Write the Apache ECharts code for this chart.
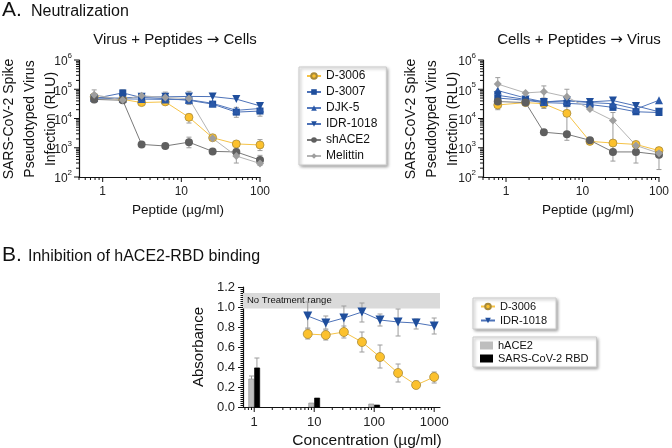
<!DOCTYPE html>
<html>
<head>
<meta charset="utf-8">
<script src="https://cdn.jsdelivr.net/npm/echarts@6/dist/echarts.min.js"></script>
<style>
  html, body { margin: 0; padding: 0; background: #fff; }
  #chart { width: 672px; height: 448px; }
</style>
</head>
<body>
<div id="chart"></div>
<script>
// 数据 —— 上图 (A) 两个面板共用的 x 值
const peptideDose = [0.78, 1.8, 3.125, 6.25, 12.5, 25, 50, 100];

// A 左：Virus + Peptides → Cells
const vpcD3006    = [55000, 45000, 35000, 37000, 11000, 2200, 1350, 1250];
const vpcD3007    = [48000, 75000, 52000, 48000, 42000, 31000, 16500, 18000];
const vpcDJK5     = [52000, 47000, 46000, 45000, 44000, 33000, 19000, 22000];
const vpcIDR1018  = [50000, 50000, 55000, 55000, 57000, 56000, 46000, 27000];
const vpcShACE2   = [45000, 42000, 1300, 1150, 1550, 750, 720, 380];
const vpcMelittin = [65000, 43000, 60000, 52000, 48000, 2100, 520, 290];
// [x, 下限, 上限, 系列]
const vpcErr = [
  [0.78, 35000, 95000, 'Melittin'],
  [1.8, 40000, 95000, 'D-3007'],
  [6.25, 30000, 80000, 'Melittin'],
  [12.5, 30000, 85000, 'Melittin'],
  [12.5, 7000, 14000, 'D-3006'],
  [12.5, 1000, 2300, 'shACE2'],
  [50, 11000, 24000, 'D-3007'],
  [50, 300, 900, 'Melittin'],
  [100, 800, 1900, 'D-3006'],
  [100, 12000, 30000, 'D-3007'],
  [100, 250, 550, 'shACE2']
];

// A 右：Cells + Peptides → Virus
const cpvD3006    = [29000, 35000, 32000, 15000, 1650, 1450, 1300, 800];
const cpvD3007    = [50000, 42000, 35000, 33000, 30000, 24000, 17000, 16000];
const cpvDJK5     = [90000, 50000, 37000, 40000, 35000, 32000, 21000, 42000];
const cpvIDR1018  = [62000, 45000, 37000, 41000, 37000, 41000, 27000, 17000];
const cpvShACE2   = [38000, 35000, 3400, 2900, 1800, 720, 720, 580];
const cpvMelittin = [150000, 75000, 82000, 55000, 21000, 8500, 1200, 650];
const cpvErr = [
  [0.78, 90000, 250000, 'Melittin'],
  [0.78, 20000, 40000, 'D-3006'],
  [3.125, 50000, 130000, 'Melittin'],
  [3.125, 22000, 45000, 'D-3006'],
  [6.25, 30000, 100000, 'Melittin'],
  [6.25, 1800, 25000, 'D-3006'],
  [25, 350, 16000, 'Melittin'],
  [50, 300, 1500, 'shACE2'],
  [100, 180, 1000, 'shACE2'],
  [100, 500, 1000, 'D-3006']
];

// B：hACE2-RBD 结合抑制
const bindConc     = [7.8, 15.6, 31.25, 62.5, 125, 250, 500, 1000];
const bindD3006    = [0.73, 0.72, 0.75, 0.65, 0.50, 0.34, 0.22, 0.30];
const bindIDR1018  = [0.91, 0.84, 0.89, 0.95, 0.87, 0.85, 0.84, 0.81];
const bindErr = [
  [7.8, 0.78, 1.05], [15.6, 0.78, 0.91], [31.25, 0.77, 1.01], [62.5, 0.85, 1.04],
  [125, 0.81, 0.93], [250, 0.71, 0.98], [500, 0.78, 0.88], [1000, 0.73, 0.89],
  [7.8, 0.68, 0.79], [15.6, 0.67, 0.77], [31.25, 0.69, 0.81], [62.5, 0.55, 0.75],
  [125, 0.39, 0.62], [250, 0.25, 0.43], [500, 0.19, 0.26], [1000, 0.24, 0.35]
];
const ctrlConc  = [1, 10, 100];
const ctrlHACE2 = [0.28, 0.04, 0.03];
const ctrlRBD   = [0.39, 0.09, 0.02];
const ctrlErr   = [[1, 0.26, 0.31, -1], [1, 0.39, 0.49, 1]];
const noTreatRange = [0.985, 1.14];

const FONT = "'Liberation Sans', Arial, sans-serif";

// 样式
const styles = {
  'D-3006':   { symbol: 'circle',   rot: 0,   fill: '#FCC12D', line: '#F6C346', border: '#A88A3A', bw: 0.8 },
  'D-3007':   { symbol: 'rect',     rot: 0,   fill: '#1F4E9C', line: '#4D72B8', border: '#1F4E9C', bw: 0 },
  'DJK-5':    { symbol: 'triangle', rot: 0,   fill: '#2A58A8', line: '#5479BD', border: '#2A58A8', bw: 0 },
  'IDR-1018': { symbol: 'triangle', rot: 180, fill: '#1F4E9C', line: '#4D72B8', border: '#1F4E9C', bw: 0 },
  'shACE2':   { symbol: 'circle',   rot: 0,   fill: '#5F5F5F', line: '#7A7A7A', border: '#5F5F5F', bw: 0 },
  'Melittin': { symbol: 'diamond',  rot: 0,   fill: '#9E9E9E', line: '#B4B4B4', border: '#9E9E9E', bw: 0 }
};

let lineSeries = function(name, xs, ys, gi) {
  let s = styles[name];
  return {
    type: 'line',
    name: name,
    xAxisIndex: gi,
    yAxisIndex: gi,
    data: xs.map((x, i) => [x, ys[i]]),
    symbol: s.symbol,
    symbolRotate: s.rot,
    symbolSize: s.symbol === 'rect' ? 7 : 8,
    showSymbol: true,
    lineStyle: { color: s.line, width: 1 },
    itemStyle: { color: s.fill, borderColor: s.border, borderWidth: s.bw },
    z: 3
  };
}

// 误差线：自定义系列，通过坐标轴换算
let errSeries = function(list, gi, z) {
  return {
    type: 'custom',
    xAxisIndex: gi,
    yAxisIndex: gi,
    silent: true,
    z: z || 2,
    data: list.map(d => [d[0], d[1], d[2], typeof d[3] === 'number' ? d[3] : 0]),
    renderItem: function(params, api) {
      let lo = api.coord([api.value(0), api.value(1)]);
      let hi = api.coord([api.value(0), api.value(2)]);
      let x = lo[0] + api.value(3) * 2.7;
      let style = { stroke: '#9C9C9C', lineWidth: 1 };
      return {
        type: 'group',
        children: [
          { type: 'line', shape: { x1: x, y1: lo[1], x2: x, y2: hi[1] }, style: style },
          { type: 'line', shape: { x1: x - 2.5, y1: hi[1], x2: x + 2.5, y2: hi[1] }, style: style },
          { type: 'line', shape: { x1: x - 2.5, y1: lo[1], x2: x + 2.5, y2: lo[1] }, style: style }
        ]
      };
    }
  };
}

// 对数轴刻度（1..9 × 10^n）
let logTickValues = function(min, max) {
  let out = [];
  for (let e = Math.floor(Math.log10(min)); e <= Math.ceil(Math.log10(max)); e++) {
    for (let k = 1; k <= 9; k++) {
      let v = k * Math.pow(10, e);
      if (v >= min * 0.9999 && v <= max * 1.0001) out.push([v, k === 1 ? 1 : 0]);
    }
  }
  return out;
}

let tickSeries = function(gi, xMin, xMax, yMin, yMax, yLog) {
  let data = [];
  logTickValues(xMin, xMax).forEach(t => data.push([t[0], yMin, t[1], 0]));
  if (yLog) logTickValues(yMin, yMax).forEach(t => data.push([xMin, t[0], t[1], 1]));
  return {
    type: 'custom',
    xAxisIndex: gi,
    yAxisIndex: gi,
    silent: true,
    z: 5,
    data: data,
    renderItem: function(params, api) {
      let p = api.coord([api.value(0), api.value(1)]);
      let len = api.value(2) ? 5 : 3;
      let shape = api.value(3) === 0
        ? { x1: p[0], y1: p[1], x2: p[0], y2: p[1] + len }
        : { x1: p[0], y1: p[1], x2: p[0] - len, y2: p[1] };
      return { type: 'line', shape: shape, style: { stroke: '#111', lineWidth: 1 } };
    }
  };
}

let barSeries = function(name, xs, ys, side, color, border) {
  return {
    type: 'custom',
    name: name,
    xAxisIndex: 2,
    yAxisIndex: 2,
    z: 3,
    itemStyle: { color: color },
    data: xs.map((x, i) => [x, ys[i]]),
    renderItem: function(params, api) {
      let base = api.coord([api.value(0), 0]);
      let top = api.coord([api.value(0), api.value(1)]);
      let w = 5.2;
      let x = side < 0 ? base[0] - w - 0.3 : base[0] + 0.3;
      return {
        type: 'rect',
        shape: { x: x, y: top[1], width: w, height: base[1] - top[1] },
        style: { fill: color, stroke: border, lineWidth: 0.6 }
      };
    }
  };
}

let logXAxis = function(gi, min, max, size) {
  return {
    type: 'log',
    logBase: 10,
    gridIndex: gi,
    min: min,
    max: max,
    axisLine: { lineStyle: { color: '#111', width: 1.2 } },
    axisTick: { show: false },
    splitLine: { show: false },
    minorTick: { show: false },
    axisLabel: {
      color: '#222',
      fontSize: size,
      fontFamily: FONT,
      margin: 9,
      showMinLabel: false,
      showMaxLabel: true,
      formatter: function(v) {
        let e = Math.log10(v);
        return Math.abs(e - Math.round(e)) < 1e-6 ? String(Math.round(v)) : '';
      }
    }
  };
}

let rluYAxis = function(gi) {
  return {
    type: 'log',
    logBase: 10,
    gridIndex: gi,
    min: 100,
    max: 1000000,
    axisLine: { show: true, lineStyle: { color: '#111', width: 1.2 } },
    axisTick: { show: false },
    splitLine: { show: false },
    axisLabel: {
      margin: 7,
      fontFamily: FONT,
      color: '#222',
      formatter: function(v) {
        return '{b|10}{s|' + Math.round(Math.log10(v)) + '}';
      },
      rich: {
        b: { fontSize: 12, fontFamily: FONT, color: '#222', verticalAlign: 'bottom', lineHeight: 16 },
        s: { fontSize: 8, fontFamily: FONT, color: '#222', verticalAlign: 'top' }
      }
    }
  };
}

let txt = function(text, x, y, size, opts) {
  opts = opts || {};
  return {
    type: 'text',
    x: x,
    y: y,
    rotation: opts.rot || 0,
    silent: true,
    style: {
      text: text,
      x: 0,
      y: 0,
      fill: '#111',
      font: 'normal ' + size + 'px ' + FONT,
      align: opts.align || 'center',
      verticalAlign: opts.va || 'middle',
      lineHeight: opts.lh,
      rich: opts.rich
    }
  };
}

const arrowRich = { a: { fontFamily: "'DejaVu Sans', sans-serif", fontSize: 15, fill: '#111' } };

let legendBox = function(left, top, data, opts) {
  return Object.assign({
    orient: 'vertical',
    left: left,
    top: top,
    data: data,
    selectedMode: false,
    padding: [3, 9, 3, 7],
    itemGap: 4,
    itemWidth: 14,
    itemHeight: 7,
    textStyle: { fontSize: 12, fontFamily: FONT, color: '#111' },
    backgroundColor: '#fff',
    borderColor: '#C9C9C9',
    borderWidth: 1,
    shadowBlur: 3,
    shadowOffsetX: 1.5,
    shadowOffsetY: 1.5,
    shadowColor: 'rgba(0,0,0,0.35)'
  }, opts || {});
}

let names = ['D-3006', 'D-3007', 'DJK-5', 'IDR-1018', 'shACE2', 'Melittin'];
let vpc = [vpcD3006, vpcD3007, vpcDJK5, vpcIDR1018, vpcShACE2, vpcMelittin];
let cpv = [cpvD3006, cpvD3007, cpvDJK5, cpvIDR1018, cpvShACE2, cpvMelittin];

let series = [];
series.push(errSeries(vpcErr, 0));
series.push(errSeries(cpvErr, 1));
names.forEach((n, i) => series.push(lineSeries(n, peptideDose, vpc[i], 0)));
names.forEach((n, i) => series.push(lineSeries(n, peptideDose, cpv[i], 1)));

let bIdr = lineSeries('IDR-1018', bindConc, bindIDR1018, 2);
bIdr.symbolSize = 9;
bIdr.markArea = {
  silent: true,
  itemStyle: { color: '#DADADA' },
  label: {
    show: true,
    position: 'insideLeft',
    distance: 4,
    color: '#111',
    fontSize: 9.5,
    fontFamily: FONT
  },
  data: [[
    { name: 'No Treatment range', xAxis: 0.65, yAxis: noTreatRange[0] },
    { xAxis: 1250, yAxis: noTreatRange[1] }
  ]]
};
let bD = lineSeries('D-3006', bindConc, bindD3006, 2);
bD.symbolSize = 9;
series.push(errSeries(bindErr, 2));
series.push(errSeries(ctrlErr, 2));
series.push(bIdr, bD);
series.push(barSeries('hACE2', ctrlConc, ctrlHACE2, -1, '#BEBEBE', '#8C8C8C'));
series.push(barSeries('SARS-CoV-2 RBD', ctrlConc, ctrlRBD, 1, '#000000', '#000000'));
series.push(tickSeries(0, 0.5, 100, 100, 1000000, true));
series.push(tickSeries(1, 0.5, 100, 100, 1000000, true));
series.push(tickSeries(2, 0.65, 1250, 0, 1.2, false));

let option = {
  animation: false,
  backgroundColor: '#fff',
  grid: [
    { left: 79, top: 60, width: 181, height: 117 },
    { left: 483, top: 60, width: 181, height: 117 },
    { left: 243, top: 287, width: 197, height: 120 }
  ],
  xAxis: [
    logXAxis(0, 0.5, 100, 12),
    logXAxis(1, 0.5, 100, 12),
    logXAxis(2, 0.65, 1250, 13)
  ],
  yAxis: [
    rluYAxis(0),
    rluYAxis(1),
    {
      type: 'value',
      gridIndex: 2,
      min: 0,
      max: 1.2,
      interval: 0.2,
      axisLine: { show: true, lineStyle: { color: '#111', width: 1.2 } },
      axisTick: { show: true, length: 5, lineStyle: { color: '#111' } },
      minorTick: { show: true, splitNumber: 10, length: 2.5, lineStyle: { color: '#111' } },
      splitLine: { show: false },
      axisLabel: {
        margin: 8,
        fontSize: 13,
        fontFamily: FONT,
        color: '#222',
        formatter: v => v.toFixed(1)
      }
    }
  ],
  legend: [
    legendBox(299, 67, names),
    legendBox(473, 298, ['D-3006', 'IDR-1018'], {
      textStyle: { fontSize: 11, fontFamily: FONT, color: '#111' }, itemGap: 3
    }),
    legendBox(473, 337, [
      { name: 'hACE2', icon: 'rect' },
      { name: 'SARS-CoV-2 RBD', icon: 'rect' }
    ], {
      textStyle: { fontSize: 11, fontFamily: FONT, color: '#111' },
      itemWidth: 13, itemHeight: 8, itemGap: 2, padding: [3, 8, 3, 7]
    })
  ],
  graphic: [
    txt('A.', 2, 21, 21, { align: 'left', va: 'bottom' }),
    txt('Neutralization', 31, 20, 16, { align: 'left', va: 'bottom' }),
    txt('B.', 2, 266, 21, { align: 'left', va: 'bottom' }),
    txt('Inhibition of hACE2-RBD binding', 28, 265, 16, { align: 'left', va: 'bottom' }),
    txt('Virus + Peptides {a|\u2192} Cells', 175, 40, 15, { rich: arrowRich }),
    txt('Cells + Peptides {a|\u2192} Virus', 579, 40, 15, { rich: arrowRich }),
    txt('SARS-CoV-2 Spike\nPseudotyped Virus\nInfection (RLU)', 30, 119, 14, { rot: Math.PI / 2, lh: 21 }),
    txt('SARS-CoV-2 Spike\nPseudotyped Virus\nInfection (RLU)', 432, 119, 14, { rot: Math.PI / 2, lh: 21 }),
    txt('Peptide (\u00b5g/ml)', 178, 210, 13.5),
    txt('Peptide (\u00b5g/ml)', 588, 210, 13.5),
    txt('Absorbance', 199, 347, 15, { rot: Math.PI / 2 }),
    txt('Concentration (\u00b5g/ml)', 367, 441, 15.5)
  ],
  series: series
};

let chart = echarts.init(document.getElementById('chart'));
chart.setOption(option);
</script>
</body>
</html>
